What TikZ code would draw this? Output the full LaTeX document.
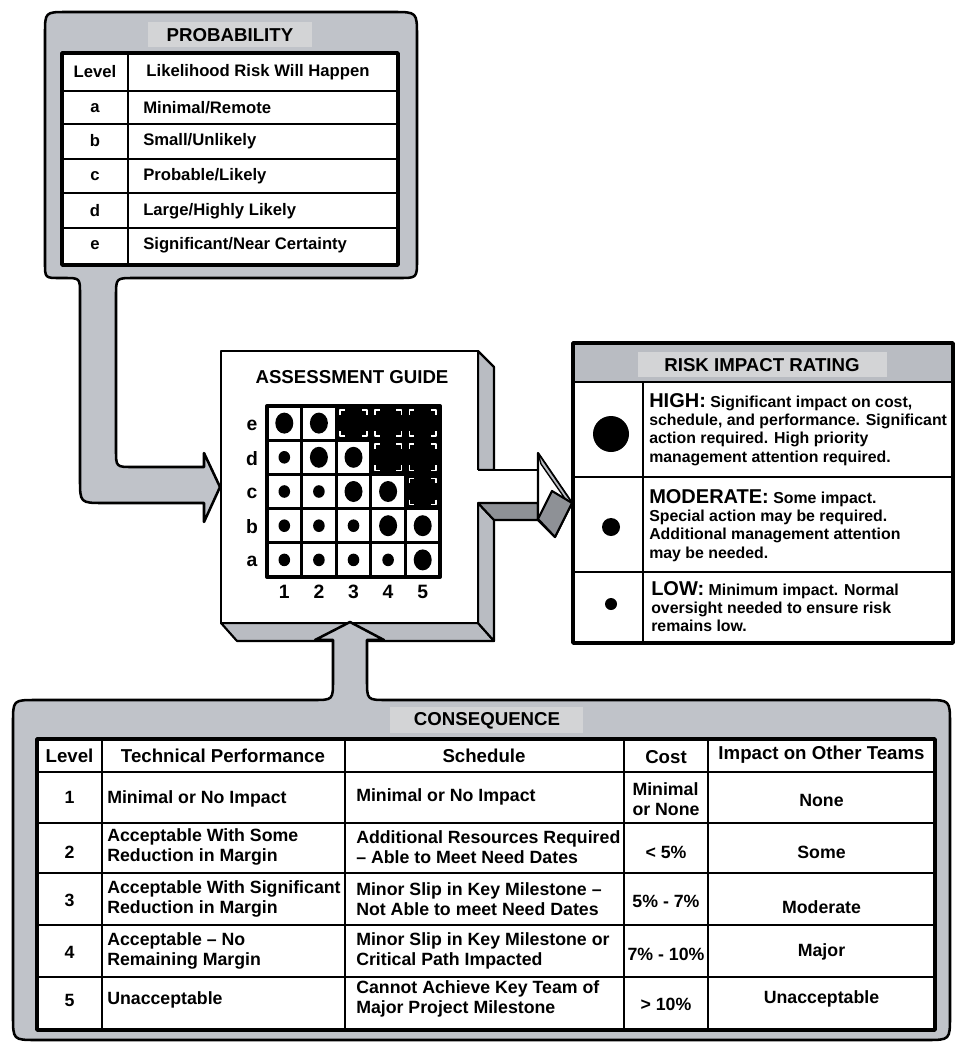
\documentclass[tikz,border=0pt]{standalone}
\usepackage{fontspec}
\setmainfont{Liberation Sans}
\definecolor{panel}{RGB}{192,195,201}
\definecolor{titlebg}{RGB}{211,212,214}
\definecolor{sidegray}{RGB}{185,188,194}
\definecolor{darkside}{RGB}{142,145,150}
\begin{document}
\begin{tikzpicture}[x=0.75pt,y=-0.75pt,line join=round,
  panelstyle/.style={fill=panel,draw=black,line width=1.9pt},
  tline/.style={line width=2.2pt},
  frame/.style={line width=2.8pt},
  gline/.style={line width=2.4pt},
  tick/.style={draw=white,line width=1.1pt},
  ptx/.style={inner sep=0pt,font=\bfseries\fontsize{12.5}{14}\selectfont},
  ttl/.style={inner sep=0pt,font=\bfseries\fontsize{14}{16}\selectfont},
  ctx/.style={inner sep=0pt,font=\bfseries\fontsize{13.3}{15.5}\selectfont},
  chx/.style={inner sep=0pt,font=\bfseries\fontsize{14}{16}\selectfont},
  rtx/.style={inner sep=0pt,font=\bfseries\fontsize{11.9}{13.75}\selectfont,align=left,anchor=north west},
  gtx/.style={inner sep=0pt,font=\bfseries\fontsize{14.5}{16}\selectfont}]
\useasboundingbox (0,0) rectangle (961,1042);

% ---------------- Probability panel ----------------
\filldraw[panelstyle] (45,34) .. controls (45,12) .. (67,12) -- (393,12)
  .. controls (417,12) .. (417,36) -- (417,260) .. controls (417,278) .. (399,278)
  -- (134,278) .. controls (116,278) .. (116,296) -- (116,450)
  .. controls (116,467) .. (133,467) -- (204,467) -- (204,453) -- (220,487)
  -- (204,522) -- (204,503) -- (104,503) .. controls (80,503) .. (80,479)
  -- (80,294) .. controls (80,278) .. (64,278) -- (60,278)
  .. controls (45,278) .. (45,263) -- cycle;
\fill[titlebg] (148,22) rectangle (312,47);
\node[ttl] (probtitle) at (230,35) {PROBABILITY};
\fill[white] (62,53) rectangle (398,265);
\draw[frame] (62,53) rectangle (398,265);
\draw[tline] (128,53) -- (128,265);
\foreach \yy in {91,124,159,193,228} \draw[tline] (62,\yy) -- (398,\yy);
\node[ptx] (plevel) at (95,72) {Level};
\node[ptx] (plike) at (258,72) {Likelihood Risk Will Happen};
\node[ptx] (pa) at (95,108) {a};
\node[ptx,anchor=west] (pat) at (143,108) {Minimal/Remote};
\node[ptx] (pb) at (95,141) {b};
\node[ptx,anchor=west] (pbt) at (143,141) {Small/Unlikely};
\node[ptx] (pc) at (95,176) {c};
\node[ptx,anchor=west] (pct) at (143,176) {Probable/Likely};
\node[ptx] (pd) at (95,211) {d};
\node[ptx,anchor=west] (pdt) at (143,211) {Large/Highly Likely};
\node[ptx] (pe) at (95,245) {e};
\node[ptx,anchor=west] (pet) at (143,245) {Significant/Near Certainty};

% ---------------- Assessment guide box ----------------
\filldraw[fill=sidegray,draw=black,line width=1.6pt] (221,623) -- (478,623) -- (494,641) -- (237,641) -- cycle;
\filldraw[fill=sidegray,draw=black,line width=1.6pt] (478,351) -- (494,367) -- (494,470) -- (478,470) -- cycle;
\filldraw[fill=sidegray,draw=black,line width=1.6pt] (478,503) -- (494,520) -- (494,641) -- (478,623) -- cycle;
\fill[white] (221,351) rectangle (478,623);
\draw[line width=1.8pt] (478,470) -- (478,351) -- (221,351) -- (221,623) -- (478,623) -- (478,503);
% right arrow
\fill[white] (478,470) rectangle (538,503);
\draw[line width=1.6pt] (478,470) -- (538,470);
\filldraw[fill=darkside,draw=black,line width=1.6pt] (478,503) -- (538,503) -- (538,520) -- (494,520) -- cycle;
\filldraw[fill=white,draw=black,line width=1.6pt] (538,470) -- (538,453) -- (572,503) -- (555,537) -- (538,520) -- cycle;
\filldraw[fill=sidegray,draw=black,line width=1pt] (538,453) -- (572,503) -- (566,500) -- (541,464) -- cycle;
\filldraw[fill=darkside,draw=black,line width=1.6pt] (538,519) -- (555,537) -- (572,503) -- (552,491) -- cycle;

\node[ttl] (agtitle) at (352,377) {ASSESSMENT GUIDE};
% grid
\fill[white] (267,406) rectangle (440,577);
\fill[black] (336.2,406) -- (440,406) -- (440,508.6) -- (405.4,508.6) -- (405.4,474.4)
  -- (370.8,474.4) -- (370.8,440.2) -- (336.2,440.2) -- cycle;
% white corner ticks in the dark cells
\foreach \xa/\ya in {336.2/406, 370.8/406, 405.4/406, 370.8/440.2, 405.4/440.2, 405.4/474.4} {
  \pgfmathsetmacro{\xb}{\xa+34.6}\pgfmathsetmacro{\yb}{\ya+34.2}
  \draw[tick] (\xa+4,\ya+9) -- (\xa+4,\ya+4) -- (\xa+9,\ya+4);
  \draw[tick] (\xb-4,\ya+9) -- (\xb-4,\ya+4) -- (\xb-9,\ya+4);
  \draw[tick] (\xa+4,\yb-9) -- (\xa+4,\yb-4) -- (\xa+9,\yb-4);
  \draw[tick] (\xb-4,\yb-9) -- (\xb-4,\yb-4) -- (\xb-9,\yb-4);
}
\foreach \xx in {301.6,336.2,370.8,405.4} \draw[gline] (\xx,406) -- (\xx,577);
\foreach \yy in {440.2,474.4,508.6,542.8} \draw[gline] (267,\yy) -- (440,\yy);
\draw[line width=3pt] (267,406) rectangle (440,577);
% big dots
\foreach \cx/\cy in {284.3/423.1, 318.9/423.1, 318.9/457.3, 353.5/457.3, 353.5/491.5, 388.1/491.5, 388.1/525.7, 422.7/525.7, 422.7/559.9}
  \fill (\cx,\cy) ellipse [x radius=9, y radius=10.5];
% small dots
\foreach \cx/\cy in {284.3/457.3, 284.3/491.5, 318.9/491.5, 284.3/525.7, 318.9/525.7, 353.5/525.7, 284.3/559.9, 318.9/559.9, 353.5/559.9, 388.1/559.9}
  \fill (\cx,\cy) ellipse [x radius=5.8, y radius=6.3];
\node[gtx] (ge) at (252,425) {e};
\node[gtx] (gd) at (252,459) {d};
\node[gtx] (gc) at (252,493) {c};
\node[gtx] (gb) at (252,527) {b};
\node[gtx] (ga) at (252,561) {a};
\node[gtx] (g1) at (284.3,592) {1};
\node[gtx] (g2) at (318.9,592) {2};
\node[gtx] (g3) at (353.5,592) {3};
\node[gtx] (g4) at (388.1,592) {4};
\node[gtx] (g5) at (422.7,592) {5};

% ---------------- Risk impact rating ----------------
\fill[white] (573,343) rectangle (953,643);
\fill[sidegray] (573,343) rectangle (953,382);
\fill[titlebg] (638,352) rectangle (887,377);
\node[ttl] (rirtitle) at (762,365) {RISK IMPACT RATING};
\draw[frame] (573,343) rectangle (953,643);
\draw[tline] (573,382) -- (953,382);
\draw[tline] (573,477) -- (953,477);
\draw[tline] (573,572) -- (953,572);
\draw[tline] (643,382) -- (643,643);
\fill (611,434) circle [radius=18];
\fill (611,527) circle [radius=9];
\fill (611,604) circle [radius=6];
\node[rtx] (rhigh) at (649,393) {{\fontsize{15}{13.75}\selectfont HIGH:} Significant impact on cost,\\schedule, and performance. Significant\\action required. High priority\\management attention required.};
\node[rtx] (rmod) at (649,489) {{\fontsize{15}{13.75}\selectfont MODERATE:} Some impact.\\Special action may be required.\\Additional management attention\\may be needed.};
\node[rtx] (rlow) at (651,581) {{\fontsize{15}{13.75}\selectfont LOW:} Minimum impact. Normal\\oversight needed to ensure risk\\remains low.};

% ---------------- Consequence panel ----------------
\filldraw[panelstyle] (13,723) .. controls (13,700) .. (36,700) -- (313,700)
  .. controls (333,700) .. (333,680) -- (333,640) -- (315,640) -- (350,622)
  -- (384,640) -- (367,640) -- (367,680) .. controls (367,700) .. (387,700)
  -- (926,700) .. controls (950,700) .. (950,724) -- (950,1016)
  .. controls (950,1040) .. (926,1040) -- (37,1040) .. controls (13,1040) .. (13,1016) -- cycle;
\fill[titlebg] (390,707) rectangle (583,733);
\node[ttl] (contitle) at (487,721) {CONSEQUENCE};
\fill[white] (37,739) rectangle (935,1030);
\draw[frame] (37,739) rectangle (935,1030);
\foreach \xx in {102,345,624,708} \draw[tline] (\xx,739) -- (\xx,1030);
\foreach \yy in {772,823,873,925,977} \draw[tline] (37,\yy) -- (935,\yy);
% header
\node[chx] (chl) at (69.5,756) {Level};
\node[chx] (cht) at (223,756) {Technical Performance};
\node[chx] (chs) at (484,756) {Schedule};
\node[chx] (chc) at (666,757) {Cost};
\node[chx] (chi) at (821.5,755) {Impact on Other Teams};
% row 1
\node[ctx] (c1l) at (69.5,797) {1};
\node[ctx,anchor=west] (c1t) at (107,799) {Minimal or No Impact};
\node[ctx,anchor=west] (c1s) at (356,797) {Minimal or No Impact};
\node[ctx,align=left] (c1c) at (666,799) {Minimal\\or None};
\node[ctx] (c1i) at (821.5,800) {None};
% row 2
\node[ctx] (c2l) at (69.5,852) {2};
\node[ctx,anchor=west,align=left] (c2t) at (107,847) {Acceptable With Some\\Reduction in Margin};
\node[ctx,anchor=west,align=left] (c2s) at (356,847) {Additional Resources Required\\– Able to Meet Need Dates};
\node[ctx] (c2c) at (666,852) {< 5\%};
\node[ctx] (c2i) at (821.5,852) {Some};
% row 3
\node[ctx] (c3l) at (69.5,900) {3};
\node[ctx,anchor=west,align=left] (c3t) at (107,899) {Acceptable With Significant\\Reduction in Margin};
\node[ctx,anchor=west,align=left] (c3s) at (356,899) {Minor Slip in Key Milestone –\\Not Able to meet Need Dates};
\node[ctx] (c3c) at (666,901) {5\% - 7\%};
\node[ctx] (c3i) at (821.5,907) {Moderate};
% row 4
\node[ctx] (c4l) at (69.5,952) {4};
\node[ctx,anchor=west,align=left] (c4t) at (107,951) {Acceptable – No\\Remaining Margin};
\node[ctx,anchor=west,align=left] (c4s) at (356,951) {Minor Slip in Key Milestone or\\Critical Path Impacted};
\node[ctx] (c4c) at (666,954) {7\% - 10\%};
\node[ctx] (c4i) at (821.5,952) {Major};
% row 5
\node[ctx] (c5l) at (69.5,1000) {5};
\node[ctx,anchor=west] (c5t) at (107,1000) {Unacceptable};
\node[ctx,anchor=west,align=left] (c5s) at (356,999) {Cannot Achieve Key Team of\\Major Project Milestone};
\node[ctx] (c5c) at (666,1004) {> 10\%};
\node[ctx] (c5i) at (821.5,999) {Unacceptable};
\end{tikzpicture}
\end{document}
